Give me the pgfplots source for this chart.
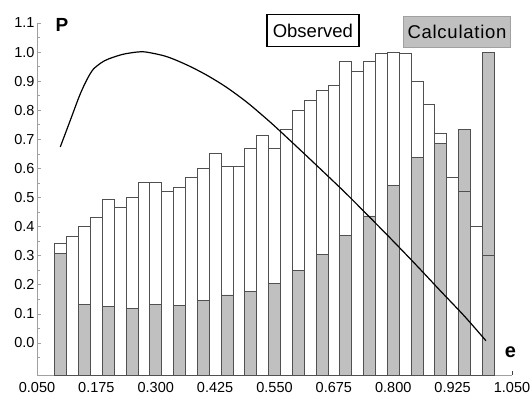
\documentclass[border=0pt]{standalone}
\usepackage{pgfplots}
\pgfplotsset{compat=1.18}
\usepackage{pgfplotstable}
\usepackage{fontspec}
\setmainfont{Liberation Sans}
\definecolor{calcgray}{HTML}{C0C0C0}
\definecolor{bardark}{HTML}{505050}
\definecolor{axisgray}{HTML}{A0A0A0}

\pgfplotstableread{
x obs
0.100 0.341
0.125 0.368
0.150 0.401
0.175 0.433
0.200 0.495
0.225 0.467
0.250 0.502
0.275 0.553
0.300 0.553
0.325 0.522
0.350 0.534
0.375 0.569
0.400 0.602
0.425 0.653
0.450 0.608
0.475 0.608
0.500 0.668
0.525 0.713
0.550 0.668
0.575 0.734
0.600 0.801
0.625 0.835
0.650 0.868
0.675 0.884
0.700 0.969
0.725 0.935
0.750 0.969
0.775 0.994
0.800 1.000
0.825 0.994
0.850 0.901
0.875 0.821
0.900 0.722
0.925 0.570
0.950 0.522
0.975 0.401
1.000 0.300
}\obstable

\pgfplotstableread{
x calc
0.10 0.309
0.15 0.134
0.20 0.125
0.25 0.119
0.30 0.134
0.35 0.128
0.40 0.146
0.45 0.165
0.50 0.176
0.55 0.206
0.60 0.248
0.65 0.303
0.70 0.371
0.75 0.437
0.80 0.543
0.85 0.638
0.90 0.687
0.95 0.733
1.00 1.000
}\calctable

\pgfplotstableread{
x p
0.099 0.674
0.120 0.765
0.140 0.852
0.155 0.905
0.168 0.940
0.185 0.963
0.200 0.976
0.230 0.992
0.260 1.000
0.280 1.000
0.322 0.985
0.364 0.957
0.406 0.922
0.448 0.880
0.490 0.830
0.520 0.789
0.550 0.746
0.600 0.670
0.650 0.593
0.700 0.515
0.750 0.433
0.800 0.350
0.850 0.265
0.900 0.178
0.950 0.092
0.995 0.008
}\curvetable

\begin{document}
\begin{tikzpicture}[x=1pt,y=1pt]
\path[use as bounding box] (0,0) rectangle (531,398);
\begin{axis}[
  at={(37pt,23pt)}, anchor=south west,
  scale only axis, width=475pt, height=352pt,
  xmin=0.05, xmax=1.05, ymin=0, ymax=1.21,
  axis lines*=left,
  axis line style={color=axisgray, line width=0.8pt},
  xtick={0.05,0.175,0.3,0.425,0.55,0.675,0.8,0.925,1.05},
  xticklabels={0.050,0.175,0.300,0.425,0.550,0.675,0.800,0.925,1.050},
  ytick={0.11,0.21,0.31,0.41,0.51,0.61,0.71,0.81,0.91,1.01,1.11,1.21},
  yticklabels={0.0,0.1,0.2,0.3,0.4,0.5,0.6,0.7,0.8,0.9,1.0,1.1},
  minor ytick={0.06,0.16,0.26,0.36,0.46,0.56,0.66,0.76,0.86,0.96,1.06,1.16},
  tick align=inside,
  major tick length=4pt, minor tick length=2.5pt,
  xtick style={color=black!75, line width=0.8pt},
  ytick style={color=axisgray, line width=0.7pt},
  minor tick style={color=axisgray!70, line width=0.6pt},
  tick label style={font=\fontsize{14.5}{16}\selectfont},
  xticklabel style={yshift=-6pt, inner ysep=1pt},
  yticklabel style={xshift=1pt},
  /pgf/number format/assume math mode=true,
  clip=false,
]
\addplot[ybar, bar width=0.025, bar shift=0pt, fill=white, draw=bardark, line width=0.7pt]
  table[x=x, y expr=\thisrow{obs}+0.11] {\obstable};
\addplot[ybar, bar width=0.025, bar shift=0pt, fill=calcgray, draw=bardark, line width=0.7pt]
  table[x=x, y expr=\thisrow{calc}+0.11] {\calctable};
\addplot[ybar, bar width=0.025, bar shift=0pt, fill=none, draw=bardark, line width=0.7pt]
  table[x=x, y expr=\thisrow{obs}+0.11] {\obstable};
\addplot[black, line width=1.2pt, smooth, tension=0.5, mark=none]
  table[x=x, y expr=\thisrow{p}+0.11] {\curvetable};
\end{axis}
\node[draw=black, line width=1.2pt, fill=white, minimum width=92pt, minimum height=32pt, inner sep=0pt,
  font=\fontsize{18.5}{20}\selectfont] at (312.9,367.5) {Observed};
\node[draw=axisgray, line width=0.8pt, fill=calcgray, minimum width=107pt, minimum height=31.7pt, inner sep=0pt,
  font=\fontsize{18.5}{20}\selectfont\addfontfeature{LetterSpace=4}] at (457,366.2) {Calculation};
\node[font=\bfseries\fontsize{19}{20}\selectfont, inner sep=0pt] at (62,373.5) {P};
\node[font=\bfseries\fontsize{20}{20}\selectfont, inner sep=0pt] at (510.5,45.5) {e};
\end{tikzpicture}
\end{document}
